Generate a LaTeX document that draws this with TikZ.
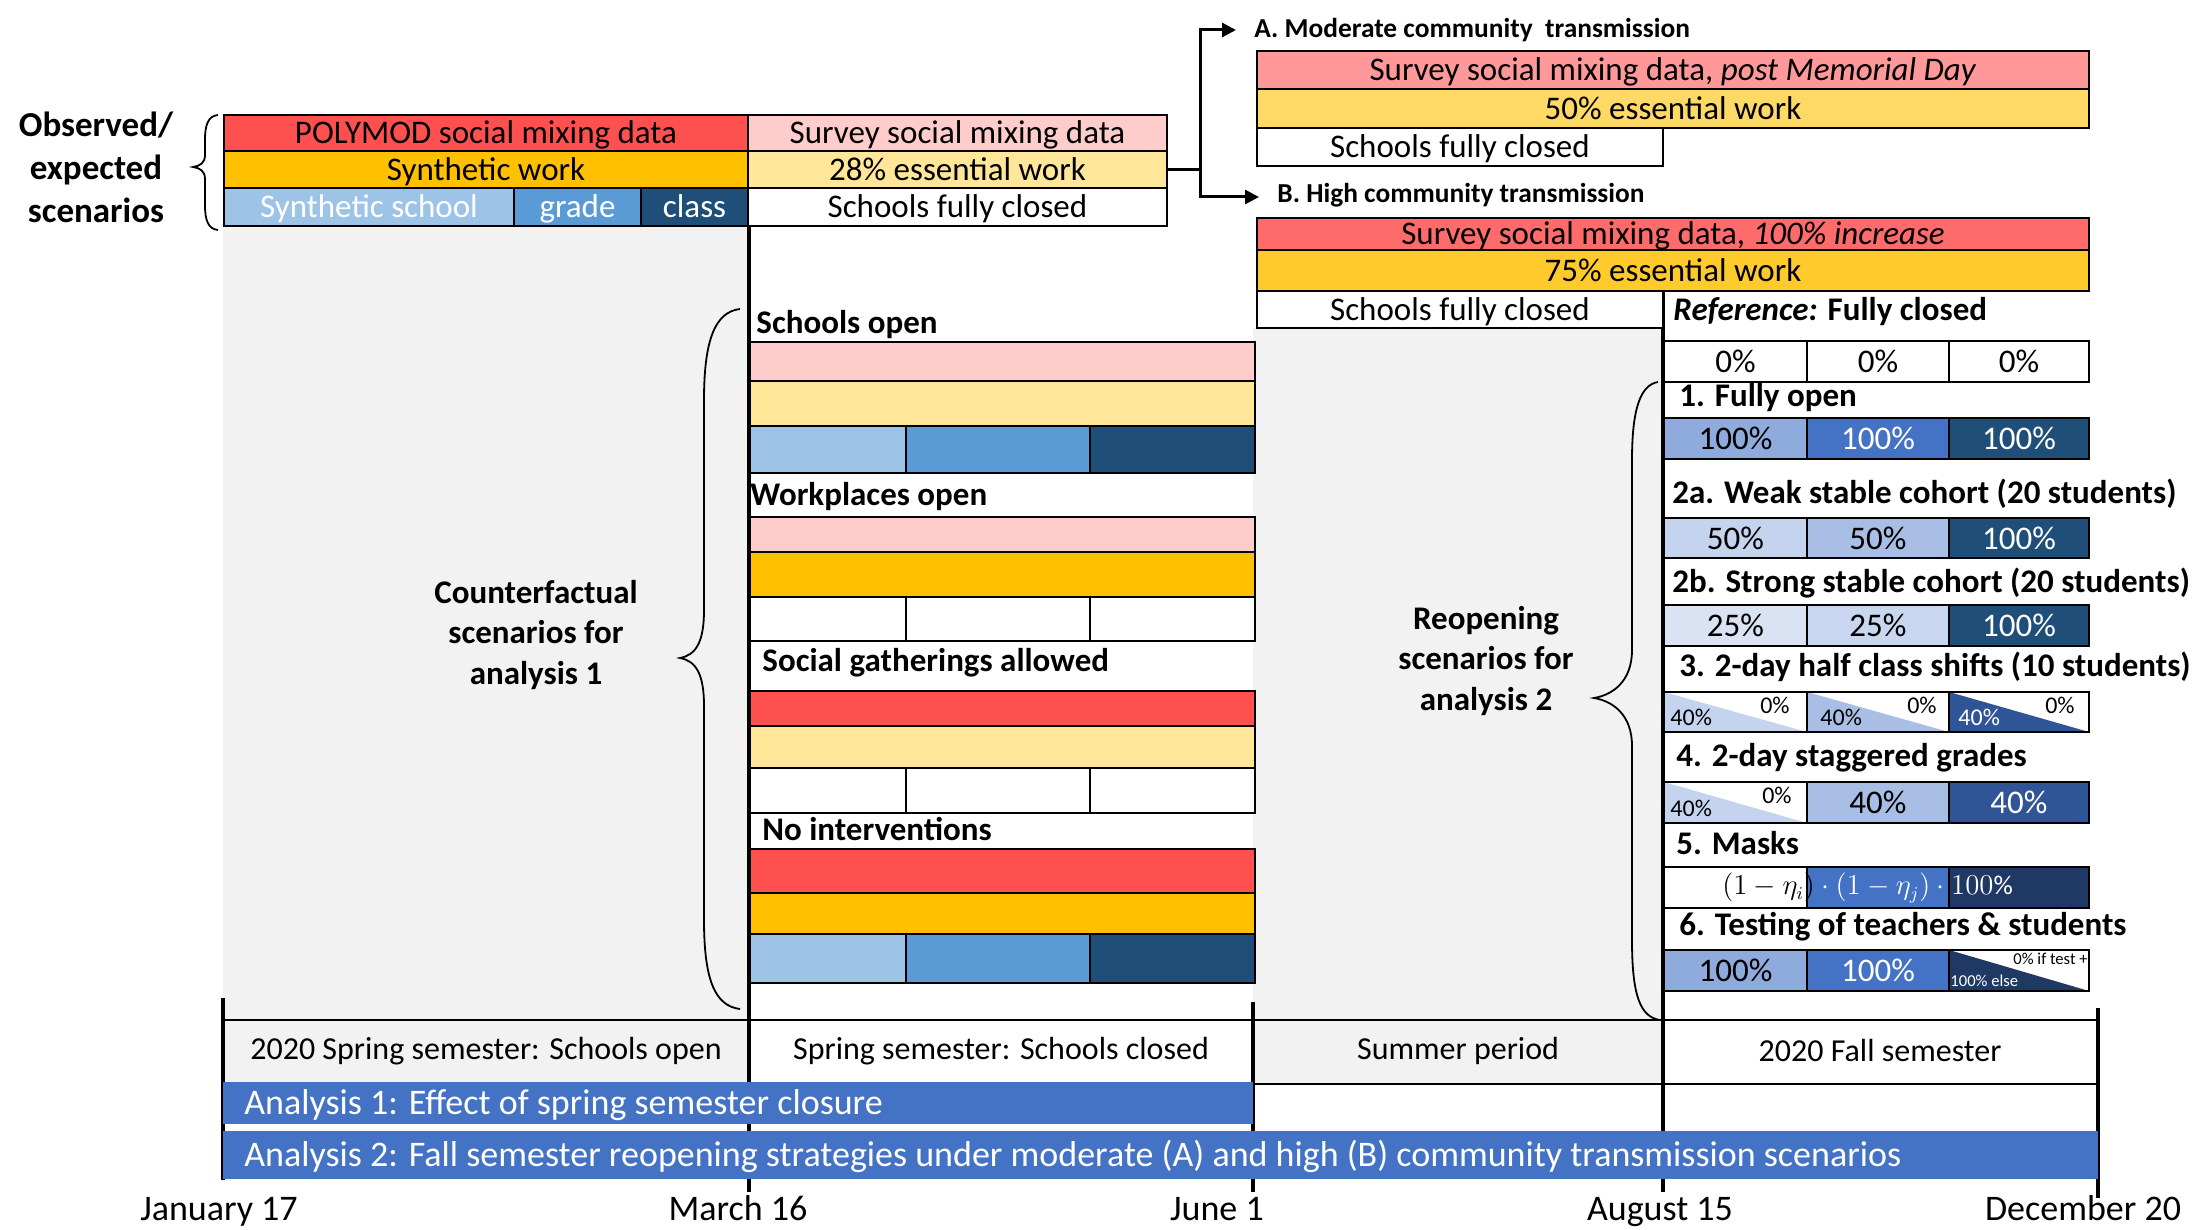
\documentclass[tikz,border=0pt]{standalone}
\usepackage{fontspec}
\setmainfont{Carlito}
\usetikzlibrary{arrows.meta}
\definecolor{cPoly}{HTML}{FF5050}
\definecolor{cSynWork}{HTML}{FFC000}
\definecolor{cSchool}{HTML}{9DC3E6}
\definecolor{cGrade}{HTML}{5B9BD5}
\definecolor{cClass}{HTML}{1F4E79}
\definecolor{cSurvey}{HTML}{FFCCCC}
\definecolor{cEss}{HTML}{FFE699}
\definecolor{cAsurv}{HTML}{FF9999}
\definecolor{cAess}{HTML}{FFD966}
\definecolor{cBsurv}{HTML}{FF6B6B}
\definecolor{cBess}{HTML}{FFCA2B}
\definecolor{cGray}{HTML}{F2F2F2}
\definecolor{cBar}{HTML}{4472C4}
\definecolor{cBa}{HTML}{8FAADC}
\definecolor{cBb}{HTML}{4472C4}
\definecolor{cNavy}{HTML}{1F4E79}
\definecolor{cDeep}{HTML}{203864}
\definecolor{cMid}{HTML}{2F5597}
\definecolor{cFiftyA}{HTML}{C5D4EE}
\definecolor{cFiftyB}{HTML}{A9BEE4}
\definecolor{cQuarterA}{HTML}{DAE3F3}
\definecolor{cQuarterB}{HTML}{C8D6EF}
\newcommand\cell[7]{\node[cellbox,#6,minimum width={(#4-#2)*0.5pt},minimum height={(#5-#3)*0.5pt}] (#1) at ({(#2+#4)/2},{(#3+#5)/2}) {#7};}
\newcommand\tricell[6]{\cell{#1}{#2}{#3}{#4}{#5}{fill=white}{}
 \fill[#6] (#1.north west) -- (#1.south west) -- (#1.south east) -- cycle;
 \draw[line width=1.3pt] (#1.north west) rectangle (#1.south east);}
\tikzset{
 cellbox/.style={draw=black,line width=1.3pt,inner sep=0pt,outer sep=0pt,text height=12.4pt,text depth=1.4pt,font=\fontsize{16.5}{19.8}\selectfont},
 hdr/.style={anchor=west,inner sep=0pt,font=\bfseries\fontsize{16.5}{19.8}\selectfont},
 sublab/.style={anchor=west,inner sep=0pt,font=\bfseries\fontsize{13.7}{16}\selectfont},
 grp/.style={align=center,inner sep=0pt,font=\bfseries\fontsize{16.5}{20.25}\selectfont},
 tltext/.style={inner sep=0pt,font=\fontsize{16}{19}\selectfont},
 bartext/.style={anchor=west,inner sep=0pt,text=white,font=\fontsize{18}{21}\selectfont},
 datelab/.style={inner sep=0pt,anchor=base,font=\fontsize{18}{21}\selectfont},
 brc/.style={line width=0.9pt},
 conn/.style={line width=1.5pt},
 tline/.style={line width=2pt},
 smalltxt/.style={inner sep=0pt,font=\fontsize{12}{14}\selectfont},
 tinytxt/.style={inner sep=0pt,font=\fontsize{8.3}{10}\selectfont},
 bar/.style={fill=cBar,draw=none,inner sep=0pt,outer sep=0pt},
}
\begin{document}
\begin{tikzpicture}[x=0.5pt,y=-0.5pt]
\useasboundingbox (0,0) rectangle (2202,1230);
% backgrounds
\fill[cGray] (223,226) rectangle (749,1082);
\fill[cGray] (1253,328) rectangle (1663,1084);
% timeline lines
\draw[line width=1pt] (223,1020) -- (2098,1020);
\draw[line width=1pt] (1253,1084) -- (2098,1084);
\draw[tline] (223,998) -- (223,1180);
\draw[tline] (749,226) -- (749,1192);
\draw[tline] (1253,1002) -- (1253,1192);
\draw[tline] (1663,291) -- (1663,1192);
\draw[tline] (2098,1008) -- (2098,1198);
% bars
\node[bar,minimum width={1030*0.5pt},minimum height={42*0.5pt}] (bar1) at (738,1103) {};
\node[bar,minimum width={1875*0.5pt},minimum height={48*0.5pt}] (bar2) at (1160.5,1155) {};
\node[bartext] (bar1t) at (244,1105) {Analysis 1: Effect of spring semester closure};
\node[bartext] (bar2t) at (244,1156) {Analysis 2: Fall semester reopening strategies under moderate (A) and high (B) community transmission scenarios};
% timeline texts
\node[tltext] (t1) at (486,1051) {2020 Spring semester: Schools open};
\node[tltext] (t2) at (1001,1051) {Spring semester: Schools closed};
\node[tltext] (t3) at (1458,1051) {Summer period};
\node[tltext] (t4) at (1880,1051) {2020 Fall semester};
\node[datelab] (d1) at (219,1220) {January 17};
\node[datelab] (d2) at (738,1220) {March 16};
\node[datelab] (d3) at (1217,1220) {June 1};
\node[datelab] (d4) at (1660,1220) {August 15};
\node[datelab] (d5) at (2083,1220) {December 20};
% observed
\node[align=center,inner sep=0pt,font=\bfseries\fontsize{17.5}{21.5}\selectfont] (obs) at (96,167) {Observed/\\expected\\scenarios};
\draw[brc] (218,115) .. controls (208,116) and (205,125) .. (205,140) -- (205,155) .. controls (205,163) and (200,166) .. (193,167) .. controls (200,168) and (205,171) .. (205,179) -- (205,205) .. controls (205,220) and (208,229) .. (218,230);
\cell{poly}{224}{115}{748}{151}{fill=cPoly}{POLYMOD social mixing data}
\cell{synwork}{224}{151}{748}{188}{fill=cSynWork}{Synthetic work}
\cell{synschool}{224}{188}{514}{226}{fill=cSchool,text=white}{Synthetic school}
\cell{grade}{514}{188}{641}{226}{fill=cGrade,text=white}{grade}
\cell{class}{641}{188}{748}{226}{fill=cClass,text=white}{class}
\cell{survey}{748}{115}{1167}{151}{fill=cSurvey}{Survey social mixing data}
\cell{esstw}{748}{151}{1167}{188}{fill=cEss}{28\% essential work}
\cell{closedz}{748}{188}{1167}{226}{fill=white}{Schools fully closed}
% connector
\coordinate (split) at (1200,169.5);
\coordinate (arrA) at (1236,30);
\coordinate (arrB) at (1259,197);
\draw[conn] (esstw.east) -- (split);
\draw[conn,-{Triangle[length=7pt,width=7pt]}] (split) |- (arrA);
\draw[conn,-{Triangle[length=7pt,width=7pt]}] (split) |- (arrB);
\node[sublab] (labA) at (1254,30) {A. Moderate community\ \ transmission};
\node[sublab] (labB) at (1277,195) {B. High community transmission};
\cell{asurv}{1257}{51}{2089}{89}{fill=cAsurv}{Survey social mixing data, \textit{post Memorial Day}}
\cell{aess}{1257}{89}{2089}{128}{fill=cAess}{50\% essential work}
\cell{aclosed}{1257}{128}{1663}{166}{fill=white}{Schools fully closed}
\cell{bsurv}{1257}{218}{2089}{250}{fill=cBsurv}{Survey social mixing data, \textit{100\% increase}}
\cell{bess}{1257}{250}{2089}{291}{fill=cBess}{75\% essential work}
\cell{bclosed}{1257}{291}{1663}{328}{fill=white}{Schools fully closed}
% middle panel
\node[hdr] (hSO) at (756,325) {Schools open};
\cell{soA}{750}{342}{1255}{381}{fill=cSurvey}{}
\cell{soB}{750}{381}{1255}{426}{fill=cEss}{}
\cell{soC}{750}{426}{906}{473}{fill=cSchool}{}
\cell{soD}{906}{426}{1090}{473}{fill=cGrade}{}
\cell{soE}{1090}{426}{1255}{473}{fill=cClass}{}
\node[hdr] (hWO) at (750,497) {Workplaces open};
\cell{woA}{750}{517}{1255}{552}{fill=cSurvey}{}
\cell{woB}{750}{552}{1255}{597}{fill=cSynWork}{}
\cell{woC}{750}{597}{906}{641}{fill=white}{}
\cell{woD}{906}{597}{1090}{641}{fill=white}{}
\cell{woE}{1090}{597}{1255}{641}{fill=white}{}
\node[hdr] (hSG) at (762,663) {Social gatherings allowed};
\cell{sgA}{750}{691}{1255}{726}{fill=cPoly}{}
\cell{sgB}{750}{726}{1255}{768}{fill=cEss}{}
\cell{sgC}{750}{768}{906}{813}{fill=white}{}
\cell{sgD}{906}{768}{1090}{813}{fill=white}{}
\cell{sgE}{1090}{768}{1255}{813}{fill=white}{}
\node[hdr] (hNI) at (762,829) {No interventions};
\cell{niA}{750}{849}{1255}{893}{fill=cPoly}{}
\cell{niB}{750}{893}{1255}{934}{fill=cSynWork}{}
\cell{niC}{750}{934}{906}{983}{fill=cSchool}{}
\cell{niD}{906}{934}{1090}{983}{fill=cGrade}{}
\cell{niE}{1090}{934}{1255}{983}{fill=cClass}{}
\node[grp] (cf) at (536,635) {Counterfactual\\scenarios for\\analysis 1};
\draw[brc] (740,309) .. controls (715,312) and (704,340) .. (704,400) -- (704,610) .. controls (704,642) and (696,655) .. (680,658) .. controls (696,661) and (704,674) .. (704,706) -- (704,920) .. controls (704,980) and (715,1006) .. (740,1009);
% right table
\node[grp] (ro) at (1486,661) {Reopening\\scenarios for\\analysis 2};
\draw[brc] (1658,382) .. controls (1640,385) and (1632,410) .. (1632,460) -- (1632,650) .. controls (1632,682) and (1612,695) .. (1594,698) .. controls (1612,701) and (1632,714) .. (1632,746) -- (1632,940) .. controls (1632,995) and (1640,1017) .. (1660,1020);
\node[hdr] (hRef) at (1673,312) {\textit{Reference:} Fully closed};
\cell{rA}{1664}{341}{1807}{382}{fill=white}{0\%}
\cell{rB}{1807}{341}{1949}{382}{fill=white}{0\%}
\cell{rC}{1949}{341}{2089}{382}{fill=white}{0\%}
\node[hdr] (h1) at (1679,398) {1. Fully open};
\cell{oA}{1664}{418}{1807}{459}{fill=cBa}{100\%}
\cell{oB}{1807}{418}{1949}{459}{fill=cBb,text=white}{100\%}
\cell{oC}{1949}{418}{2089}{459}{fill=cNavy,text=white}{100\%}
\node[hdr] (h2a) at (1672,494) {2a. Weak stable cohort (20 students)};
\cell{wA}{1664}{518}{1807}{558}{fill=cFiftyA}{50\%}
\cell{wB}{1807}{518}{1949}{558}{fill=cFiftyB}{50\%}
\cell{wC}{1949}{518}{2089}{558}{fill=cNavy,text=white}{100\%}
\node[hdr] (h2b) at (1672,583) {2b. Strong stable cohort (20 students)};
\cell{sA}{1664}{605}{1807}{646}{fill=cQuarterA}{25\%}
\cell{sB}{1807}{605}{1949}{646}{fill=cQuarterB}{25\%}
\cell{sC}{1949}{605}{2089}{646}{fill=cNavy,text=white}{100\%}
\node[hdr] (h3) at (1679,667) {3. 2-day half class shifts (10 students)};
\tricell{hA}{1664}{692}{1807}{732}{cFiftyA}
\tricell{hB}{1807}{692}{1949}{732}{cFiftyB}
\tricell{hC}{1949}{692}{2089}{732}{cMid}
\node[smalltxt,anchor=south west] (hA1) at (1670,726) {40\%};
\node[smalltxt,anchor=north east] (hA2) at (1790,697) {0\%};
\node[smalltxt,anchor=south west] (hB1) at (1820,726) {40\%};
\node[smalltxt,anchor=north east] (hB2) at (1937,697) {0\%};
\node[smalltxt,anchor=south west,text=white] (hC1) at (1958,726) {40\%};
\node[smalltxt,anchor=north east] (hC2) at (2075,697) {0\%};
\node[hdr] (h4) at (1676,758) {4. 2-day staggered grades};
\tricell{gA}{1664}{782}{1807}{823}{cFiftyA}
\cell{gB}{1807}{782}{1949}{823}{fill=cFiftyB}{40\%}
\cell{gC}{1949}{782}{2089}{823}{fill=cMid,text=white}{40\%}
\node[smalltxt,anchor=south west] (gA1) at (1670,817) {40\%};
\node[smalltxt,anchor=north east] (gA2) at (1792,787) {0\%};
\node[hdr] (h5) at (1676,843) {5. Masks};
\cell{mA}{1664}{867}{1807}{908}{fill=white}{}
\cell{mB}{1807}{867}{1949}{908}{fill=cBb}{}
\cell{mC}{1949}{867}{2089}{908}{fill=cDeep}{}
\node[inner sep=0pt,anchor=west,font=\fontsize{13.5}{16}\selectfont] (mform) at (1722,888) {$(1-\eta_i)\color{white}\cdot\bigl(1-\eta_j\bigr)\cdot 100\%$};
\node[hdr] (h6) at (1679,927) {6. Testing of teachers \& students};
\cell{tA}{1664}{950}{1807}{991}{fill=cBa}{100\%}
\cell{tB}{1807}{950}{1949}{991}{fill=cBb,text=white}{100\%}
\tricell{tC}{1949}{950}{2089}{991}{cDeep}
\node[tinytxt,anchor=north east] (tC1) at (2088,953) {0\% if test +};
\node[tinytxt,anchor=south west,text=white] (tC2) at (1950,987) {100\% else};
\end{tikzpicture}
\end{document}
